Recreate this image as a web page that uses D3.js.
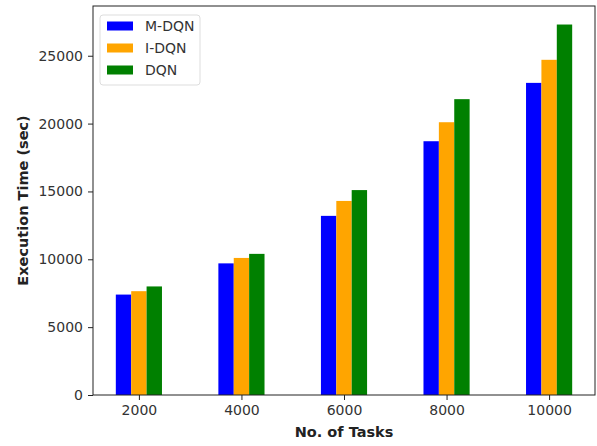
<!DOCTYPE html>
<html>
<head>
<meta charset="utf-8">
<script src="https://cdn.jsdelivr.net/npm/d3@7"></script>
<style>
  html, body { margin: 0; padding: 0; background: #fff; }
  svg { display: block; font-family: "DejaVu Sans", sans-serif; }
</style>
</head>
<body>
<svg id="chart" width="597" height="446"></svg>
<script>
// Task counts on the x axis
const categories = ["2000", "4000", "6000", "8000", "10000"];
// Series names and colours
const seriesNames = ["M-DQN", "I-DQN", "DQN"];
const seriesColors = ["#0000ff", "#ffa500", "#008000"];
// Execution time (sec) per series
const mdqn = [7400, 9700, 13200, 18700, 23000];
const idqn = [7650, 10100, 14300, 20100, 24700];
const dqn  = [8000, 10400, 15100, 21800, 27300];
const seriesValues = [mdqn, idqn, dqn];
const yTicks = [0, 5000, 10000, 15000, 20000, 25000];

const svg = d3.select("#chart");
const plotL = 93, plotR = 595, plotT = 6, plotB = 395;
const barW = 0.15;

// Category positions 0..n-1 with 5% margins on each side
const dataMin = -barW * 1.5, dataMax = categories.length - 1 + barW * 1.5;
const pad = (dataMax - dataMin) * 0.05;
const x = d3.scaleLinear().domain([dataMin - pad, dataMax + pad]).range([plotL, plotR]);
const yMax = d3.max(seriesValues.flat()) * 1.05;
const y = d3.scaleLinear().domain([0, yMax]).range([plotB, plotT]);

// Bars
seriesValues.forEach((vals, si) => {
  svg.append("g").selectAll("rect").data(vals).join("rect")
    .attr("x", (d, i) => x(i + (si - 1) * barW - barW / 2))
    .attr("width", x(barW) - x(0))
    .attr("y", d => y(d))
    .attr("height", d => y(0) - y(d))
    .attr("fill", seriesColors[si]);
});

// Axes
const xAxis = d3.axisBottom(x)
  .tickValues(d3.range(categories.length))
  .tickFormat(i => categories[i])
  .tickSize(5).tickPadding(5).tickSizeOuter(0);
const yAxis = d3.axisLeft(y)
  .tickValues(yTicks).tickFormat(d3.format("d"))
  .tickSize(5).tickPadding(5).tickSizeOuter(0);

const gx = svg.append("g").attr("transform", `translate(0,${plotB})`).call(xAxis);
const gy = svg.append("g").attr("transform", `translate(${plotL},0)`).call(yAxis);
[gx, gy].forEach(g => {
  g.select(".domain").remove();
  g.selectAll("line").attr("stroke", "#222").attr("stroke-width", 1);
  g.selectAll("text").attr("font-size", 14).attr("fill", "#333")
    .attr("font-family", "DejaVu Sans, sans-serif");
});

// Frame
svg.append("rect")
  .attr("x", plotL).attr("y", plotT)
  .attr("width", plotR - plotL).attr("height", plotB - plotT)
  .attr("fill", "none").attr("stroke", "#222").attr("stroke-width", 1);

// Axis titles
svg.append("text")
  .attr("x", (plotL + plotR) / 2).attr("y", 437)
  .attr("text-anchor", "middle").attr("font-size", 14.5).attr("font-weight", "bold")
  .attr("fill", "#222").text("No. of Tasks");
svg.append("text")
  .attr("transform", `translate(28,${(plotT + plotB) / 2}) rotate(-90)`)
  .attr("text-anchor", "middle").attr("font-size", 14.5).attr("font-weight", "bold")
  .attr("fill", "#222").text("Execution Time (sec)");

// Legend
const lg = svg.append("g").attr("transform", "translate(100,15)");
lg.append("rect").attr("width", 100).attr("height", 70).attr("rx", 3)
  .attr("fill", "#fff").attr("fill-opacity", 0.8)
  .attr("stroke", "#ddd").attr("stroke-width", 1);
seriesNames.forEach((name, i) => {
  const cy = 11 + i * 22;
  lg.append("rect").attr("x", 7).attr("y", cy - 4.5).attr("width", 26).attr("height", 9)
    .attr("fill", seriesColors[i]);
  lg.append("text").attr("x", 45).attr("y", cy).attr("dy", "0.35em")
    .attr("font-size", 14).attr("fill", "#333").text(name);
});
</script>
</body>
</html>
